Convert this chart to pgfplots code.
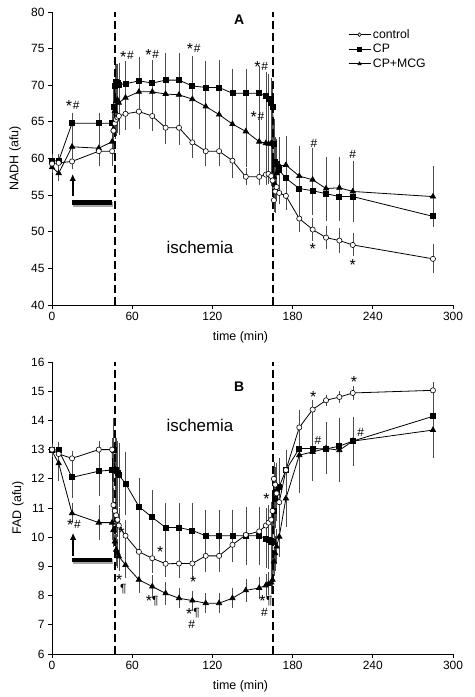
\documentclass[border=0pt]{standalone}
\usepackage{pgfplots}
\pgfplotsset{compat=1.18}
\usepackage{pgfplotstable}
\usepackage{fontspec}
\setmainfont{Liberation Sans}
\usetikzlibrary{arrows.meta}

\pgfplotstableread{
t c ce p pe m me
0 59.3 0.5 59.7 0.5 58.8 0.4
5 59.4 0.6 59.7 0.5 58.0 0.7
15 59.6 0.7 64.8 1.1 61.6 1.4
35 61.0 1.6 64.8 1.1 61.4 1.8
45 61.0 1.6 64.8 1.1 62.3 1.6
46 63.8 1.8 67.1 2.5 64.0 3.0
47 64.8 1.8 69.9 2.5 66.5 3.5
48 65.3 1.8 70.4 2.2 67.8 4.0
49 65.6 1.8 70.3 2.2 68.0 4.0
50 65.8 1.8 70.1 2.6 67.6 4.0
55 66.1 1.5 70.2 2.7 68.3 4.0
65 66.4 2.0 70.6 2.9 69.1 4.4
75 65.8 1.7 70.3 2.6 69.1 4.0
85 64.2 1.8 70.7 3.3 68.8 4.5
95 64.2 2.0 70.7 3.3 68.7 4.5
105 62.2 1.7 69.9 3.7 68.1 4.5
115 61.0 1.7 69.7 3.3 67.1 4.5
125 61.0 1.6 69.7 3.4 66.0 4.5
135 59.7 2.0 68.9 3.0 64.7 4.5
145 57.5 0.8 68.9 3.0 63.7 4.5
155 57.5 0.8 68.9 3.3 62.3 4.3
160 57.8 1.0 68.5 3.0 62.1 4.0
162 57.9 1.0 68.2 3.0 62.0 4.0
164 57.6 1.0 67.6 3.0 62.1 4.0
165 57.0 1.2 67.0 3.0 62.0 4.0
166 54.3 1.2 62.0 3.0 57.5 3.5
167 55.5 1.2 59.5 3.0 56.4 3.5
168 56.1 1.2 59.3 3.0 58.0 3.5
170 55.3 1.2 58.4 3.0 59.0 3.5
175 54.9 1.5 57.3 3.0 59.1 3.6
185 51.8 1.4 55.9 3.0 57.6 3.7
195 50.3 1.2 55.6 3.0 57.1 4.0
205 49.2 1.2 55.2 3.0 55.9 4.0
215 48.8 1.3 54.8 3.0 56.0 3.9
225 48.2 1.2 54.8 2.5 55.5 3.8
285 46.3 1.6 52.1 0.8 54.8 3.8
}\dataA

\pgfplotstableread{
t c ce p pe m me
0 13.0 0.1 13.0 0.1 12.95 0.1
5 12.85 0.15 12.98 0.2 12.53 0.5
15 12.7 0.15 12.05 0.6 10.82 0.25
35 13.0 0.2 12.26 0.75 10.5 0.5
45 13.0 0.2 12.3 1.0 10.5 0.5
46 11.1 0.5 13.0 1.0 10.25 0.5
47 10.9 0.5 12.3 1.0 9.85 0.45
48 10.75 0.5 12.3 1.0 9.57 0.45
49 10.6 0.5 12.2 1.0 9.45 0.4
50 10.4 0.5 12.13 1.0 9.34 0.4
55 10.05 0.45 11.84 1.0 9.05 0.35
65 9.5 0.45 11.05 0.9 8.54 0.35
75 9.28 0.4 10.68 0.85 8.31 0.3
85 9.09 0.35 10.33 0.75 8.08 0.3
95 9.1 0.4 10.33 0.75 7.91 0.25
105 9.1 0.45 10.23 0.85 7.83 0.25
115 9.36 0.45 10.05 0.8 7.74 0.25
125 9.36 0.45 10.05 0.8 7.74 0.25
135 9.74 0.45 10.05 0.8 7.91 0.25
145 10.08 0.5 10.05 0.9 8.18 0.3
155 10.2 0.5 10.05 0.9 8.26 0.3
160 10.4 0.5 9.95 0.9 8.35 0.3
162 10.5 0.5 9.9 0.9 8.4 0.3
164 10.6 0.5 9.85 0.9 8.45 0.3
165 10.9 0.5 9.85 0.9 8.54 0.3
166 12.0 0.5 10.9 0.9 9.17 0.4
167 11.8 0.5 11.3 0.9 9.45 0.5
168 11.5 0.5 11.56 0.9 9.68 0.5
170 11.2 0.5 11.73 0.9 10.02 0.6
175 12.3 0.6 12.3 0.5 11.33 0.9
185 13.76 0.5 13.04 0.9 12.81 1.2
195 14.37 0.25 13.04 0.9 12.92 0.9
205 14.69 0.1 13.02 0.7 13.04 0.8
215 14.8 0.1 13.12 0.7 12.98 1.0
225 14.94 0.15 13.29 0.75 13.29 0.6
285 15.03 0.2 14.14 0.75 13.67 0.85
}\dataB

\newcommand{\lblfont}{\fontsize{12}{14.4}\selectfont}
\newcommand{\annfont}{\fontsize{12}{12}\selectfont}
\newcommand{\as}{\raisebox{-2.2bp}{\fontsize{16}{16}\selectfont *}}
\newcommand{\sh}{\as\kern0.8bp\#}
\tikzset{ann/.style={font=\annfont, inner sep=0.5bp, align=center}}
\pgfplotsset{
  myaxis/.style={
    scale only axis, width=401bp, xmin=0, xmax=300, xtick={0,60,...,300},
    axis x line*=bottom, axis y line*=left,
    axis line style={-, line width=0.9bp, black},
    tick align=outside, major tick length=4bp,
    tick style={black, line width=0.8bp},
    /pgf/number format/assume math mode=true,
    tick label style={font=\lblfont},
    label style={font=\fontsize{12.5}{15}\selectfont},
    xlabel={time (min)},
    xlabel style={at={(axis description cs:0.47,-0.11)}, anchor=center},
    clip=false,
  },
  ebar/.style={error bars/.cd, y dir=both, y explicit,
    error bar style={line width=0.5bp, black!70},
    error mark options={black!70, mark size=2.7bp, line width=0.5bp},
    /pgfplots/.cd},
  ctl/.style={black, line width=0.8bp, mark=*, mark size=2.6bp, mark options={fill=white, draw=black, line width=0.6bp}},
  cp/.style={black, line width=0.8bp, mark=square*, mark size=2.5bp, mark options={fill=black}},
  mcg/.style={black, line width=0.8bp, mark=triangle*, mark size=3bp, mark options={fill=black}},
}

\begin{document}
\begin{tikzpicture}
\useasboundingbox (-52bp,-392bp) rectangle (423bp,305bp);
% ---------- Panel A ----------
\begin{axis}[myaxis, at={(0,0)}, anchor=south west, height=293bp,
  ymin=40, ymax=80, ytick={40,45,...,80},
  ylabel={NADH (afu)},
  ylabel style={at={(axis description cs:-0.092,0.5)}, anchor=center},
  legend style={at={(axis description cs:0.738,0.948)}, anchor=north west,
    draw=none, fill=none, font=\fontsize{12.3}{14}\selectfont, row sep=0.5bp, inner sep=0pt,
    /tikz/every even column/.append style={column sep=1bp}},
  legend cell align=left,
  legend image code/.code={\draw[mark repeat=2,mark phase=2,#1,mark size=1.8bp] plot coordinates {(0bp,0bp) (11bp,0bp) (22bp,0bp)};},
]
\addplot[forget plot, mcg, ebar] table[x=t, y=m, y error=me] {\dataA};
\addplot[forget plot, cp, ebar] table[x=t, y=p, y error=pe] {\dataA};
\addplot[forget plot, ctl, ebar] table[x=t, y=c, y error=ce] {\dataA};
\addlegendimage{ctl}
\addlegendentry{control}
\addlegendimage{cp}
\addlegendentry{CP}
\addlegendimage{mcg}
\addlegendentry{CP+MCG}
\draw[line width=2.2bp, dash pattern=on 8bp off 4bp] (axis cs:47,40) -- (axis cs:47,80);
\draw[line width=2.2bp, dash pattern=on 8bp off 4bp] (axis cs:165.5,40) -- (axis cs:165.5,80);
\draw[line width=1.9bp, -{Latex[length=7bp,width=6.5bp]}] (axis cs:15.5,54.9) -- (axis cs:15.5,57.9);
\draw[line width=4.5bp, black!35] (axis cs:16,53.75) -- (axis cs:45.5,53.75);
\draw[line width=4.5bp, black] (axis cs:15,54.0) -- (axis cs:45,54.0);
\node[font=\fontsize{17}{20}\selectfont] at (axis cs:110.7,47.8) {ischemia};
\node[font=\fontsize{14}{16}\selectfont\bfseries] at (axis cs:140,78.9) {A};
\node[ann] at (axis cs:15.5,67.2) {\sh};
\node[ann] at (axis cs:56,73.9) {\sh};
\node[ann] at (axis cs:75,74.1) {\sh};
\node[ann] at (axis cs:106,74.9) {\sh};
\node[ann] at (axis cs:156.5,72.5) {\sh};
\node[ann] at (axis cs:153.7,65.6) {\sh};
\node[ann] at (axis cs:196,62.1) {\#};
\node[ann] at (axis cs:225,60.5) {\#};
\node[ann] at (axis cs:195,47.6) {\as};
\node[ann] at (axis cs:225,45.4) {\as};
\end{axis}
% ---------- Panel B ----------
\begin{axis}[myaxis, at={(0,-349bp)}, anchor=south west, height=292bp,
  ymin=6, ymax=16, ytick={6,7,...,16},
  ylabel={FAD (afu)},
  ylabel style={at={(axis description cs:-0.085,0.5)}, anchor=center},
]
\addplot[mcg, ebar] table[x=t, y=m, y error=me] {\dataB};
\addplot[cp, ebar] table[x=t, y=p, y error=pe] {\dataB};
\addplot[ctl, ebar] table[x=t, y=c, y error=ce] {\dataB};
\draw[line width=2.2bp, dash pattern=on 8bp off 4bp] (axis cs:47,6) -- (axis cs:47,16);
\draw[line width=2.2bp, dash pattern=on 8bp off 4bp] (axis cs:165.5,6) -- (axis cs:165.5,16);
\draw[line width=1.9bp, -{Latex[length=7bp,width=6.5bp]}] (axis cs:15.8,9.36) -- (axis cs:15.8,10.15);
\draw[line width=4.5bp, black!35] (axis cs:16,9.17) -- (axis cs:45.5,9.17);
\draw[line width=4.5bp, black] (axis cs:15,9.22) -- (axis cs:45,9.22);
\node[font=\fontsize{17}{20}\selectfont] at (axis cs:110.7,13.84) {ischemia};
\node[font=\fontsize{14}{16}\selectfont\bfseries] at (axis cs:140,15.14) {B};
\node[ann] at (axis cs:16.5,10.42) {\sh};
\node[ann] at (axis cs:52,10.13) {\as};
\node[ann] at (axis cs:81,9.48) {\as};
\node[ann] at (axis cs:105.6,8.45) {\as};
\node[ann] at (axis cs:50.3,8.55) {\as};
\node[ann] at (axis cs:53.3,8.22) {¶};
\node[ann] at (axis cs:75,7.8) {\as¶};
\node[ann] at (axis cs:105.5,7.38) {\as\kern1bp¶};
\node[ann] at (axis cs:104.5,7.0) {\#};
\node[ann] at (axis cs:160,7.8) {\as\kern0.5bp¶};
\node[ann] at (axis cs:159,7.42) {\#};
\node[ann] at (axis cs:160.5,11.3) {\as};
\node[ann] at (axis cs:195.5,14.8) {\as};
\node[ann] at (axis cs:226,15.3) {\as};
\node[ann] at (axis cs:199,13.32) {\#};
\node[ann] at (axis cs:231,13.6) {\#};
\end{axis}
\end{tikzpicture}
\end{document}
